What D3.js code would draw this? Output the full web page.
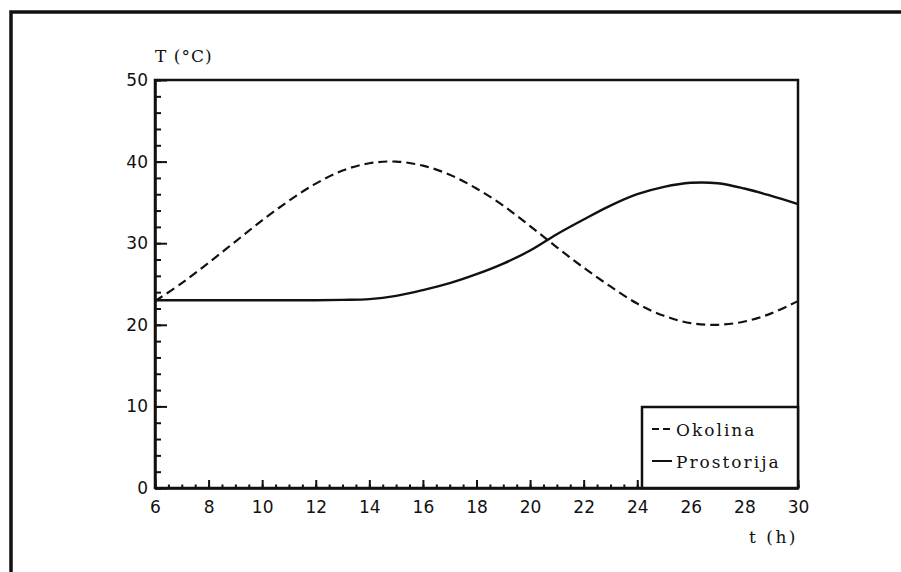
<!DOCTYPE html>
<html>
<head>
<meta charset="utf-8">
<script src="https://cdn.jsdelivr.net/npm/d3@7"></script>
<style>
    body { margin: 0; background: #fff; }
    svg { display: block; }
    .tick text { font-family: "DejaVu Sans", sans-serif; font-size: 17px; fill: #111; }
    .lbl { font-family: "DejaVu Serif", serif; font-size: 17px; fill: #111; }
</style>
</head>
<body>
<div id="chart"></div>
<script>
// hours of the day
var hours = [6, 7, 8, 9, 10, 11, 12, 13, 14, 15, 16, 17, 18, 19, 20, 21, 22, 23, 24, 25, 26, 27, 28, 29, 30];
// outside temperature (dashed)
var okolina = [22.9, 25.1, 27.6, 30.2, 32.8, 35.2, 37.3, 38.9, 39.8, 40.0, 39.5, 38.4, 36.7, 34.6, 32.1, 29.5, 27.0, 24.7, 22.6, 21.1, 20.2, 20.0, 20.4, 21.4, 22.9];
// room temperature (solid)
var prostorija = [23.0, 23.0, 23.0, 23.0, 23.0, 23.0, 23.0, 23.05, 23.15, 23.55, 24.25, 25.1, 26.2, 27.5, 29.1, 31.1, 32.9, 34.6, 36.0, 36.9, 37.4, 37.35, 36.7, 35.8, 34.8];

var xTicks = [6, 8, 10, 12, 14, 16, 18, 20, 22, 24, 26, 28, 30];
var yTicks = [0, 10, 20, 30, 40, 50];
var legendNames = ["Okolina", "Prostorija"];

var width = 901, height = 572;
var plotLeft = 155, plotTop = 80, plotRight = 798, plotBottom = 488;

var svg = d3.select("#chart").append("svg").attr("width", width).attr("height", height);

// outer frame (runs off the right and bottom of the picture)
svg.append("rect")
    .attr("x", 11).attr("y", 12)
    .attr("width", 960).attr("height", 620)
    .attr("fill", "none").attr("stroke", "#111").attr("stroke-width", 3.5);

var x = d3.scaleLinear().domain([6, 30]).range([plotLeft, plotRight]);
var y = d3.scaleLinear().domain([0, 50]).range([plotBottom, plotTop]);

// plot box
svg.append("rect")
    .attr("x", plotLeft).attr("y", plotTop)
    .attr("width", plotRight - plotLeft).attr("height", plotBottom - plotTop)
    .attr("fill", "none").attr("stroke", "#111").attr("stroke-width", 2.5);

// minor ticks
var xMinor = d3.range(6, 30.01, 0.5);
var yMinor = d3.range(0, 50.01, 2);

svg.append("g")
    .attr("transform", "translate(0," + plotBottom + ")")
    .call(d3.axisBottom(x).tickValues(xMinor).tickSize(-3.5).tickFormat(""))
    .call(function(g){ g.select(".domain").remove(); })
    .selectAll("line").attr("stroke", "#111").attr("stroke-width", 2);

svg.append("g")
    .attr("transform", "translate(" + plotLeft + ",0)")
    .call(d3.axisLeft(y).tickValues(yMinor).tickSize(-6).tickFormat(""))
    .call(function(g){ g.select(".domain").remove(); })
    .selectAll("line").attr("stroke", "#111").attr("stroke-width", 2);

// major ticks + labels
var xAxis = svg.append("g")
    .attr("transform", "translate(0," + plotBottom + ")")
    .call(d3.axisBottom(x).tickValues(xTicks).tickSizeInner(-8).tickSizeOuter(0).tickPadding(13));
xAxis.select(".domain").attr("stroke", "#111").attr("stroke-width", 2.5);
xAxis.selectAll("line").attr("stroke", "#111").attr("stroke-width", 2);

var yAxis = svg.append("g")
    .attr("transform", "translate(" + plotLeft + ",0)")
    .call(d3.axisLeft(y).tickValues(yTicks).tickSizeInner(-12).tickSizeOuter(0).tickPadding(7));
yAxis.select(".domain").attr("stroke", "#111").attr("stroke-width", 2.5);
yAxis.selectAll("line").attr("stroke", "#111").attr("stroke-width", 2);

var line = d3.line()
    .x(function(d, i){ return x(hours[i]); })
    .y(function(d){ return y(d); })
    .curve(d3.curveCatmullRom.alpha(0.5));

svg.append("path")
    .datum(okolina)
    .attr("d", line)
    .attr("fill", "none")
    .attr("stroke", "#111")
    .attr("stroke-width", 2.2)
    .attr("stroke-dasharray", "9,5");

svg.append("path")
    .datum(prostorija)
    .attr("d", line)
    .attr("fill", "none")
    .attr("stroke", "#111")
    .attr("stroke-width", 2.4);

// axis titles
svg.append("text").attr("class", "lbl")
    .attr("x", plotLeft).attr("y", 62)
    .attr("letter-spacing", 1)
    .text("T (°C)");

svg.append("text").attr("class", "lbl")
    .attr("x", plotRight).attr("y", 543)
    .attr("text-anchor", "end")
    .attr("font-size", 18)
    .attr("letter-spacing", 2.5)
    .text("t (h)");

// legend
var lgX = 642, lgY = 407;
svg.append("rect")
    .attr("x", lgX).attr("y", lgY)
    .attr("width", plotRight - lgX).attr("height", plotBottom - lgY)
    .attr("fill", "#fff").attr("stroke", "#111").attr("stroke-width", 2.5);

legendNames.forEach(function(name, i){
    var ly = 436 + i * 32;
    svg.append("line")
        .attr("x1", lgX + 10).attr("x2", lgX + 30)
        .attr("y1", ly - 7).attr("y2", ly - 7)
        .attr("stroke", "#111").attr("stroke-width", 2)
        .attr("stroke-dasharray", i == 0 ? "7,4" : null);
    svg.append("text").attr("class", "lbl")
        .attr("x", lgX + 34).attr("y", ly)
        .attr("font-size", 18)
        .attr("letter-spacing", 2)
        .text(name);
});
</script>
</body>
</html>
